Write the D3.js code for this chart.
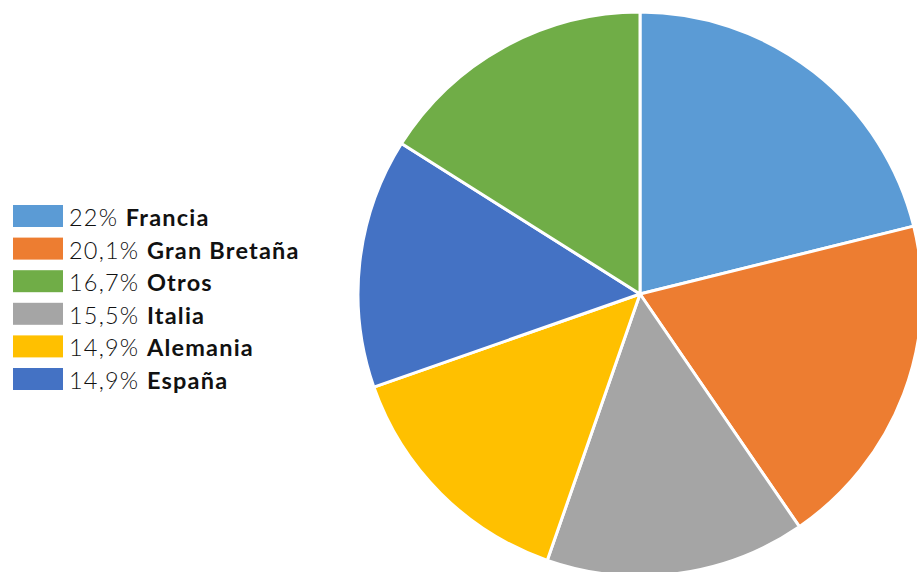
<!DOCTYPE html>
<html>
<head>
<meta charset="utf-8">
<script src="https://cdn.jsdelivr.net/npm/d3@7"></script>
<style>
  html, body { margin: 0; padding: 0; background: #fff; }
  svg { display: block; }
</style>
</head>
<body>
<svg id="chart" width="917" height="572"></svg>
<script>
// Slice order (clockwise from 12 o'clock)
const countries = ["Francia", "Gran Bretaña", "Italia", "Alemania", "España", "Otros"];
const shares    = [22, 20.1, 15.5, 14.9, 14.9, 16.7];
const colors    = ["#5B9BD5", "#ED7D31", "#A5A5A5", "#FFC000", "#4472C4", "#70AD47"];
const shareLabels = ["22%", "20,1%", "15,5%", "14,9%", "14,9%", "16,7%"];

// Legend order
const legendOrder = ["Francia", "Gran Bretaña", "Otros", "Italia", "Alemania", "España"];

const svg = d3.select("#chart");

const cx = 640, cy = 294, radius = 282;

const data = countries.map((c, i) => ({ name: c, value: shares[i], color: colors[i], label: shareLabels[i] }));

const pie = d3.pie().sort(null).value(d => d.value);
const arc = d3.arc().innerRadius(0).outerRadius(radius);

svg.append("g")
  .attr("transform", `translate(${cx},${cy})`)
  .selectAll("path")
  .data(pie(data))
  .join("path")
  .attr("d", arc)
  .attr("fill", d => d.data.color)
  .attr("stroke", "#fff")
  .attr("stroke-width", 3)
  .attr("stroke-linejoin", "round");

// Legend
const y = d3.scaleBand().domain(legendOrder).range([205, 205 + 6 * 32.6]).paddingInner(0);
const byName = new Map(data.map(d => [d.name, d]));

const legend = svg.append("g").selectAll("g")
  .data(legendOrder.map(n => byName.get(n)))
  .join("g")
  .attr("transform", d => `translate(13,${y(d.name)})`);

legend.append("rect")
  .attr("width", 50)
  .attr("height", 22)
  .attr("fill", d => d.color);

const txt = legend.append("text")
  .attr("x", 56)
  .attr("y", 21)
  .attr("font-family", "Lato, 'Noto Sans', sans-serif")
  .attr("font-size", 23.5)
  .attr("letter-spacing", 1.2)
  .attr("fill", "#111");

txt.append("tspan").attr("font-weight", 300).text(d => d.label + " ");
txt.append("tspan").attr("font-weight", 700).text(d => d.name);
</script>
</body>
</html>
